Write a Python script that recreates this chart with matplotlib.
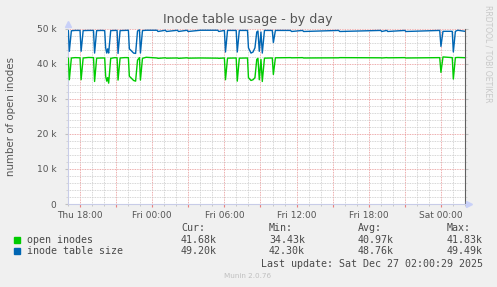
import matplotlib
matplotlib.use("Agg")
import matplotlib.pyplot as plt
import numpy as np

# hours after Thu 17:00, values in thousands
hours = [0.00, 0.03, 0.11, 0.28, 0.60, 1.00, 1.09, 1.26, 1.70, 2.12, 2.21, 2.38, 2.80,
         3.05, 3.13, 3.22, 3.30, 3.38, 3.55, 3.90, 4.08, 4.16, 4.33, 4.70, 5.02, 5.10,
         5.28, 5.45, 5.62, 5.78, 5.94, 6.02, 6.19, 6.50, 7.40, 7.48, 8.10, 8.18, 9.10,
         9.18, 9.90, 9.98, 11.00, 12.45, 12.53, 13.00, 13.09, 13.26, 13.98, 14.07, 14.24,
         14.92, 15.00, 15.21, 15.38, 15.54, 15.69, 15.79, 15.90, 16.04, 16.15, 16.33,
         16.98, 17.07, 17.24, 18.50, 18.58, 19.50, 19.58, 22.50, 22.58, 26.00, 26.08,
         26.50, 26.58, 28.00, 28.08, 30.90, 31.00, 31.17, 31.94, 32.03, 32.20, 32.40,
         33.00]
table_size = [49.40, 49.40, 43.5, 49.35, 49.45, 49.45, 43.5, 49.40, 49.45, 49.45, 43.0,
              49.40, 49.45, 49.40, 44.5, 43.0, 44.2, 43.0, 49.40, 49.45, 49.45, 42.9,
              49.40, 49.45, 49.50, 44.2, 43.6, 43.0, 42.9, 49.30, 49.60, 43.0, 49.40,
              49.50, 49.50, 49.15, 49.50, 49.15, 49.50, 49.15, 49.50, 49.15, 49.50,
              49.50, 49.15, 49.45, 43.3, 49.45, 49.45, 43.3, 49.45, 49.45, 44.5, 43.0,
              43.3, 44.5, 49.0, 49.3, 43.5, 49.0, 43.0, 49.45, 49.45, 46.0, 49.45,
              49.45, 49.15, 49.45, 49.15, 49.45, 49.15, 49.45, 49.15, 49.45, 49.15,
              49.45, 49.15, 49.45, 44.9, 49.20, 49.20, 43.3, 49.20, 49.50, 49.20]
open_inodes = [41.55, 41.55, 35.4, 41.60, 41.70, 41.65, 35.4, 41.60, 41.75, 41.70, 34.9,
               41.55, 41.60, 41.60, 36.4, 35.0, 36.0, 34.43, 41.50, 41.70, 41.65, 35.3,
               41.60, 41.70, 41.70, 36.4, 35.8, 35.2, 35.0, 41.00, 41.70, 35.3, 41.50,
               41.80, 41.60, 41.50, 41.65, 41.55, 41.60, 41.50, 41.65, 41.55, 41.60,
               41.55, 41.50, 41.60, 35.4, 41.55, 41.60, 35.0, 41.55, 41.60, 36.0, 35.2,
               35.4, 36.0, 41.2, 41.5, 35.4, 41.2, 34.9, 41.55, 41.60, 36.9, 41.65,
               41.70, 41.65, 41.70, 41.60, 41.65, 41.70, 41.65, 41.60, 41.70, 41.65,
               41.70, 41.60, 41.70, 37.5, 41.90, 41.70, 35.6, 41.70, 41.75, 41.68]

tick_hours = [1, 7, 13, 19, 25, 31]
tick_names = ["Thu 18:00", "Fri 00:00", "Fri 06:00", "Fri 12:00", "Fri 18:00", "Sat 00:00"]

legend_names = ["open inodes", "inode table size"]
legend_colors = ["#00cc00", "#0066b3"]
cur = ["41.68k", "49.20k"]
mins = ["34.43k", "42.30k"]
avgs = ["40.97k", "48.76k"]
maxs = ["41.83k", "49.49k"]

W, H = 497, 287
fig = plt.figure(figsize=(W / 100, H / 100), dpi=100, facecolor="#f0f0f0")
ax = fig.add_axes([68 / W, 1 - 204 / H, (465 - 68) / W, (204 - 28.5) / H])
ax.set_facecolor("white")

ax.plot(hours, table_size, color=legend_colors[1], lw=1.0, zorder=3)
ax.plot(hours, open_inodes, color=legend_colors[0], lw=1.0, zorder=3)

ax.set_xlim(0, 33)
ax.set_ylim(0, 50)

ax.set_xticks(np.arange(1, 33, 3))
ax.set_xticklabels([tick_names[tick_hours.index(h)] if h in tick_hours else ""
                    for h in range(1, 33, 3)])
ax.set_xticks(np.arange(0, 34, 1), minor=True)
ax.set_yticks(np.arange(0, 51, 10))
ax.set_yticklabels(["0"] + [f"{v} k" for v in range(10, 51, 10)])
ax.set_yticks(np.arange(0, 51, 2), minor=True)

ax.grid(which="minor", color="#c8c8c8", ls=(0, (1, 1)), lw=0.6, zorder=0)
ax.grid(which="major", color="#e89090", ls=(0, (1, 1)), lw=0.6, zorder=1)

ax.tick_params(axis="both", which="both", labelsize=6.5, labelcolor="#555555")
ax.tick_params(axis="x", which="major", length=2, color="#e88080", pad=3)
ax.tick_params(axis="x", which="minor", length=1.5, color="#c0c0c0")
ax.tick_params(axis="y", which="major", length=2.5, color="#c0c0c0", pad=6)
ax.tick_params(axis="y", which="minor", length=1.5, color="#d0d0d0")
ax.tick_params(axis="y", which="major", right=True, labelright=False)
ax.tick_params(axis="y", which="minor", right=True)

ax.spines["top"].set_visible(False)
ax.spines["left"].set_color("#c8cce8")
ax.spines["bottom"].set_color("#c8cce8")
ax.spines["right"].set_color("#606060")
for s in ax.spines.values():
    s.set_linewidth(0.8)

ax.plot([0], [1 + 5 / 175.5], marker="^", ms=4, color="#c8d0f8",
        transform=ax.transAxes, clip_on=False, zorder=5)
ax.plot([1 + 4 / 397], [0], marker=">", ms=4, color="#c8d0f8",
        transform=ax.transAxes, clip_on=False, zorder=5)

ax.set_ylabel("number of open inodes", fontsize=7.4, color="#555555")
ax.yaxis.set_label_coords(-0.13, 0.5)

fig.text(248 / W, 1 - 22.6 / H, "Inode table usage - by day", ha="center",
         va="baseline", fontsize=9.1, color="#555555")
fig.text(488 / W, 1 - 5 / H, "RRDTOOL / TOBI OETIKER", rotation=270, ha="center",
         va="top", fontsize=5.5, color="#c8c8c8")

mono = dict(family="DejaVu Sans Mono", fontsize=7.2, color="#4a4a4a", va="center")
col_x = [181, 269, 358, 447]
heads = ["Cur:", "Min:", "Avg:", "Max:"]
for x, h in zip(col_x, heads):
    fig.text(x / W, 1 - 227.7 / H, h, **mono)
rows_y = [240, 251]
for i in range(2):
    y = 1 - rows_y[i] / H
    fig.patches.append(plt.Rectangle((14 / W, y - 2.6 / H), 5.5 / W, 5.5 / H,
                                     transform=fig.transFigure, color=legend_colors[i]))
    fig.text(27 / W, y, legend_names[i], **mono)
    fig.text(217 / W, y, cur[i], ha="right", **mono)
    fig.text(305 / W, y, mins[i], ha="right", **mono)
    fig.text(394 / W, y, avgs[i], ha="right", **mono)
    fig.text(482.7 / W, y, maxs[i], ha="right", **mono)
fig.text(482.7 / W, 1 - 264 / H, "Last update: Sat Dec 27 02:00:29 2025", ha="right",
         **mono)
fig.text(248 / W, 1 - 276 / H, "Munin 2.0.76", ha="center", va="center", fontsize=5.2,
         color="#c0c0c0")

fig.savefig("out.png", dpi=100, facecolor=fig.get_facecolor())
